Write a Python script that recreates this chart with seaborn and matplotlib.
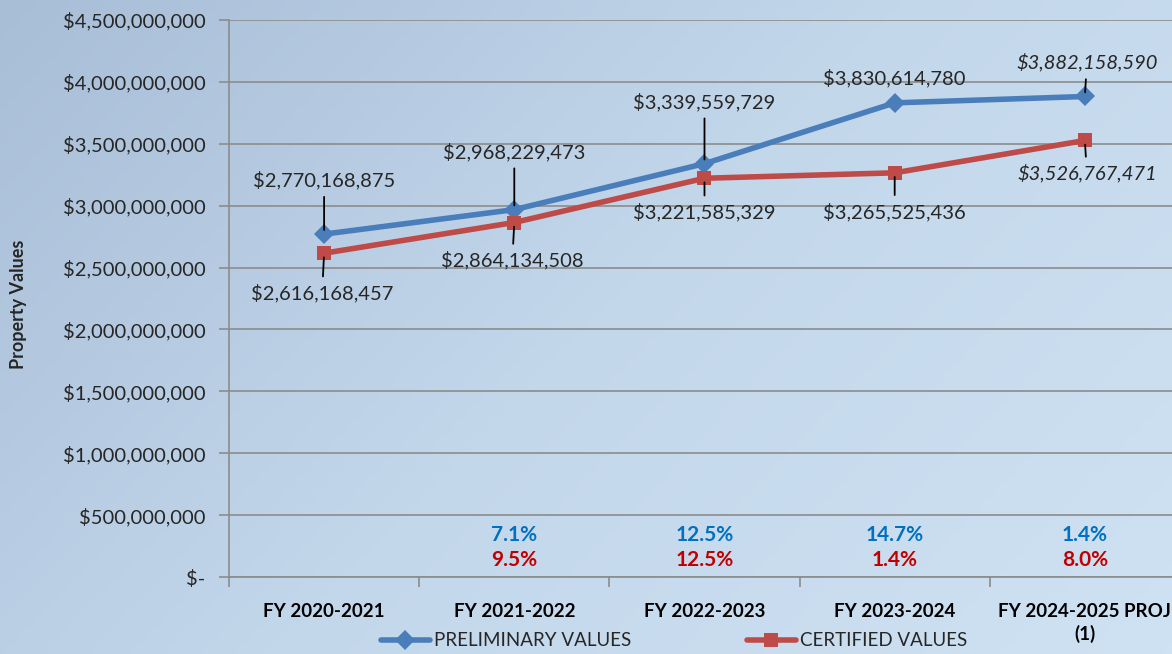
import numpy as np
import pandas as pd
import matplotlib
matplotlib.use("Agg")
import matplotlib.pyplot as plt
from matplotlib.colors import LinearSegmentedColormap
from matplotlib.ticker import FuncFormatter, FixedLocator
from matplotlib.lines import Line2D
import seaborn as sns

# chart data
categories = ["FY 2020-2021", "FY 2021-2022", "FY 2022-2023", "FY 2023-2024", "FY 2024-2025 PROJ\n(1)"]
preliminary = [2770168875, 2968229473, 3339559729, 3830614780, 3882158590]
certified = [2616168457, 2864134508, 3221585329, 3265525436, 3526767471]
prelim_pct = ["", "7.1%", "12.5%", "14.7%", "1.4%"]
cert_pct = ["", "9.5%", "12.5%", "1.4%", "8.0%"]

BLUE = "#4a7ebb"
RED = "#be4b48"

sns.set_theme(style="white")
plt.rcParams["font.family"] = ["Lato", "DejaVu Sans"]

fig = plt.figure(figsize=(11.72, 6.54), dpi=100)

# gradient background
bg = fig.add_axes([0, 0, 1, 1], zorder=-10)
gx, gy = np.meshgrid(np.linspace(0, 1, 300), np.linspace(0, 1, 200))
grad = 0.65 * gx + 0.35 * gy
cmap = LinearSegmentedColormap.from_list("bg", ["#a8bed7", "#c3d7eb", "#cfe2f3"])
bg.imshow(grad, cmap=cmap, aspect="auto", extent=[0, 1, 0, 1], origin="upper")
bg.axis("off")

ax = fig.add_axes([0.1954, 0.1177, 0.8114, 0.8517])
ax.patch.set_alpha(0)

x = np.arange(len(categories))
df = pd.DataFrame({
    "x": np.concatenate([x, x]),
    "value": preliminary + certified,
    "series": ["PRELIMINARY VALUES"] * len(x) + ["CERTIFIED VALUES"] * len(x),
})
sns.lineplot(data=df, x="x", y="value", hue="series", style="series",
             palette={"PRELIMINARY VALUES": BLUE, "CERTIFIED VALUES": RED},
             markers={"PRELIMINARY VALUES": "D", "CERTIFIED VALUES": "s"},
             dashes=False, linewidth=4, markersize=10, markeredgewidth=0,
             ax=ax, legend=False, zorder=3)

ax.set_xlim(-0.5, 4.5)
ax.set_ylim(0, 4.5e9)
ax.set_yticks(np.arange(0, 4.5e9 + 1, 5e8))
ax.yaxis.set_major_formatter(FuncFormatter(lambda v, p: "$-" if v == 0 else f"${v:,.0f}"))
ax.grid(axis="y", color="#8c8c8c", linewidth=1.2)
ax.set_axisbelow(True)
for s in ["top", "right"]:
    ax.spines[s].set_visible(False)
for s in ["left", "bottom"]:
    ax.spines[s].set_color("#8c8c8c")
    ax.spines[s].set_linewidth(1.2)

ax.set_xticks(x)
ax.set_xticklabels(categories, fontweight="bold", fontsize=13.5, linespacing=1.3)
ax.xaxis.set_minor_locator(FixedLocator(np.arange(-0.5, 4.6, 1)))
ax.tick_params(axis="x", which="major", length=0, pad=19, colors="black")
ax.tick_params(axis="x", which="minor", length=7, color="#8c8c8c", width=1.2, bottom=True)
ax.tick_params(axis="y", length=7, color="#8c8c8c", width=1.2, pad=10, labelsize=14.5, left=True)
ax.set_xlabel("")
ax.set_ylabel("Property Values", fontweight="bold", fontsize=13)
ax.yaxis.set_label_coords(-0.212, 0.49)

# data labels with leader lines (offsets in pixels)
prelim_off = [(0, 54), (0, 58), (0, 62), (0, 25), (2, 34)]
cert_off = [(-2, -40), (-2, -38), (0, -34), (0, -39), (2, -33)]
prelim_line = [True, True, True, False, True]
italic = [False, False, False, False, True]

for i in x:
    style = "italic" if italic[i] else "normal"
    ax.annotate(f"${preliminary[i]:,}", xy=(i, preliminary[i]), xytext=prelim_off[i],
                textcoords="offset pixels", ha="center", va="center", fontsize=14.5,
                fontstyle=style,
                arrowprops=dict(arrowstyle="-", color="black", lw=1.3, shrinkA=3, shrinkB=3)
                if prelim_line[i] else None, zorder=5)
    ax.annotate(f"${certified[i]:,}", xy=(i, certified[i]), xytext=cert_off[i],
                textcoords="offset pixels", ha="center", va="center", fontsize=14.5,
                fontstyle=style,
                arrowprops=dict(arrowstyle="-", color="black", lw=1.3, shrinkA=3, shrinkB=3),
                zorder=5)

# percentage change labels
for i in x:
    ax.text(i, 3.4e8, prelim_pct[i], ha="center", va="center", color="#0070c0",
            fontsize=15, fontweight="bold")
    ax.text(i, 1.35e8, cert_pct[i], ha="center", va="center", color="#c00000",
            fontsize=15, fontweight="bold")

# legend
handles = [Line2D([], [], color=BLUE, lw=4, marker="D", markersize=10, markeredgewidth=0),
           Line2D([], [], color=RED, lw=4, marker="s", markersize=10, markeredgewidth=0)]
fig.legend(handles, ["PRELIMINARY VALUES", "CERTIFIED VALUES"], loc="center",
           bbox_to_anchor=(0.575, 0.02), ncol=2, frameon=False, fontsize=13.5,
           handlelength=2.6, handletextpad=0.2, columnspacing=6.2)

fig.savefig("out.png", dpi=100)
